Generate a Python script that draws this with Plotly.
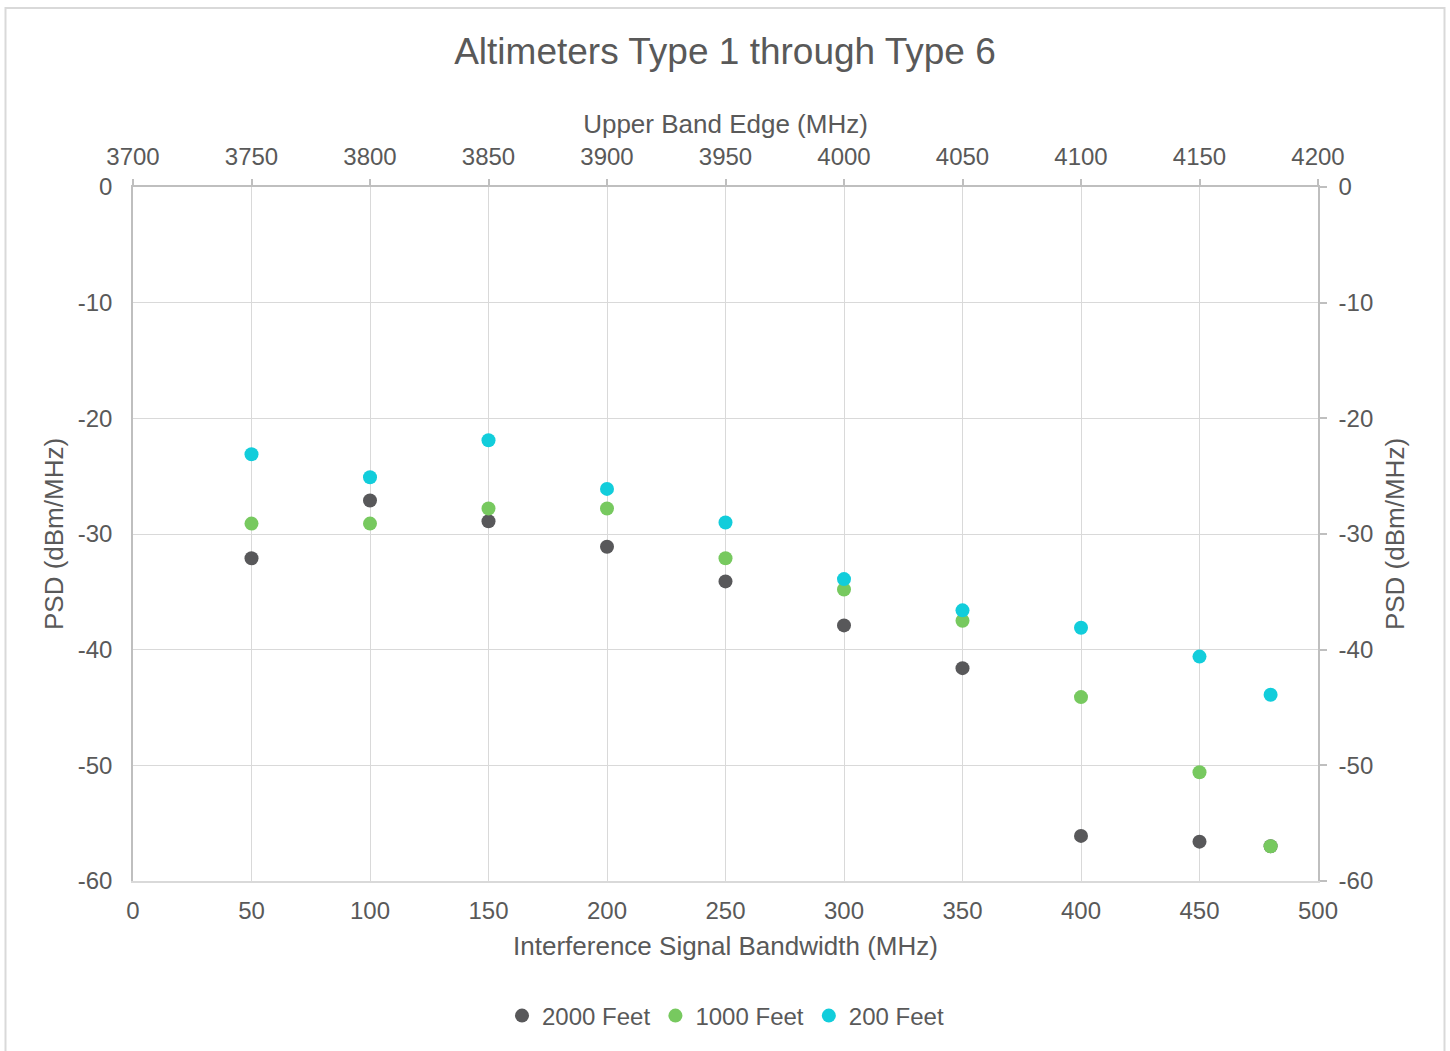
import plotly.graph_objects as go

# Data
bandwidth = [50, 100, 150, 200, 250, 300, 350, 400, 450, 480]
feet_2000 = [-32.1, -27.1, -28.9, -31.1, -34.1, -37.9, -41.6, -56.1, -56.6, -57.0]
feet_1000 = [-29.1, -29.1, -27.8, -27.8, -32.1, -34.8, -37.5, -44.1, -50.6, -57.0]
feet_200 = [-23.1, -25.1, -21.9, -26.1, -29.0, -33.9, -36.6, -38.1, -40.6, -43.9]
upper_edge = [3750, 3800, 3850, 3900, 3950, 4000, 4050, 4100, 4150, 4180]

psd_ticks = [-60, -50, -40, -30, -20, -10, 0]
psd_labels = ["-60", "-50", "-40", "-30", "-20", "-10", "0"]

font_family = "Liberation Sans, Arial, sans-serif"
text_color = "#595959"

fig = go.Figure()

series = [
    ("2000 Feet", feet_2000, "#58585a"),
    ("1000 Feet", feet_1000, "#77c95f"),
    ("200 Feet", feet_200, "#12cddb"),
]
for name, vals, color in series:
    fig.add_trace(go.Scatter(
        x=bandwidth, y=vals, mode="markers", name=name,
        marker=dict(size=14, color=color),
    ))

# invisible trace so the top / right axes get drawn
fig.add_trace(go.Scatter(
    x=upper_edge, y=feet_200, xaxis="x2", yaxis="y2", mode="markers",
    marker=dict(opacity=0), showlegend=False, hoverinfo="skip",
))

fig.update_layout(
    width=1450, height=1051,
    margin=dict(l=133, r=132, t=187, b=170),
    paper_bgcolor="white", plot_bgcolor="white",
    font=dict(family=font_family, color=text_color, size=24),
    title=dict(text="Altimeters Type 1 through Type 6", x=0.5, xanchor="center",
               y=1 - 51 / 1051, yanchor="middle", yref="container",
               font=dict(size=37, color=text_color)),
    xaxis=dict(
        range=[0, 500], dtick=50, showgrid=True, gridcolor="#d9d9d9", gridwidth=1.3,
        zeroline=False, showline=True, linecolor="#d9d9d9", linewidth=1.5,
        ticks="", ticklabelstandoff=7,
        title=dict(text="Interference Signal Bandwidth (MHz)", font=dict(size=26), standoff=14),
    ),
    yaxis=dict(
        range=[-60, 0], tickvals=psd_ticks, ticktext=psd_labels,
        showgrid=True, gridcolor="#d9d9d9", gridwidth=1.3,
        zeroline=False, showline=True, linecolor="#bfbfbf", linewidth=1.5,
        ticks="", ticklabelstandoff=14,
        title=dict(text="PSD (dBm/MHz)", font=dict(size=26), standoff=7),
    ),
    xaxis2=dict(
        range=[3700, 4200], dtick=50, overlaying="x", side="top", anchor="y2",
        showgrid=False, zeroline=False, showline=True, linecolor="#bfbfbf", linewidth=1.5,
        ticks="outside", ticklen=6, tickcolor="#bfbfbf", tickwidth=1.5, ticklabelstandoff=5,
        title=dict(text="Upper Band Edge (MHz)", font=dict(size=26), standoff=2),
    ),
    yaxis2=dict(
        range=[-60, 0], tickvals=psd_ticks, ticktext=psd_labels,
        overlaying="y", side="right", anchor="x2",
        showgrid=False, zeroline=False, showline=True, linecolor="#bfbfbf", linewidth=1.5,
        ticks="outside", ticklen=7, tickcolor="#bfbfbf", tickwidth=1.5, ticklabelstandoff=7,
        title=dict(text="PSD (dBm/MHz)", font=dict(size=26), standoff=14),
    ),
    legend=dict(orientation="h", x=0.5, xanchor="center", y=(881 - 1016) / 694,
                yanchor="middle", font=dict(size=24), itemwidth=30,
                traceorder="normal"),
    shapes=[dict(type="rect", xref="paper", yref="paper",
                 x0=(5.5 - 133) / 1185, x1=(1444.5 - 133) / 1185,
                 y0=(881 - 1060) / 694, y1=(881 - 8) / 694,
                 line=dict(color="#d9d9d9", width=2), layer="below")],
)

fig.write_html("out.html", config={"displayModeBar": False},
               post_script="document.body.style.margin='0';")
